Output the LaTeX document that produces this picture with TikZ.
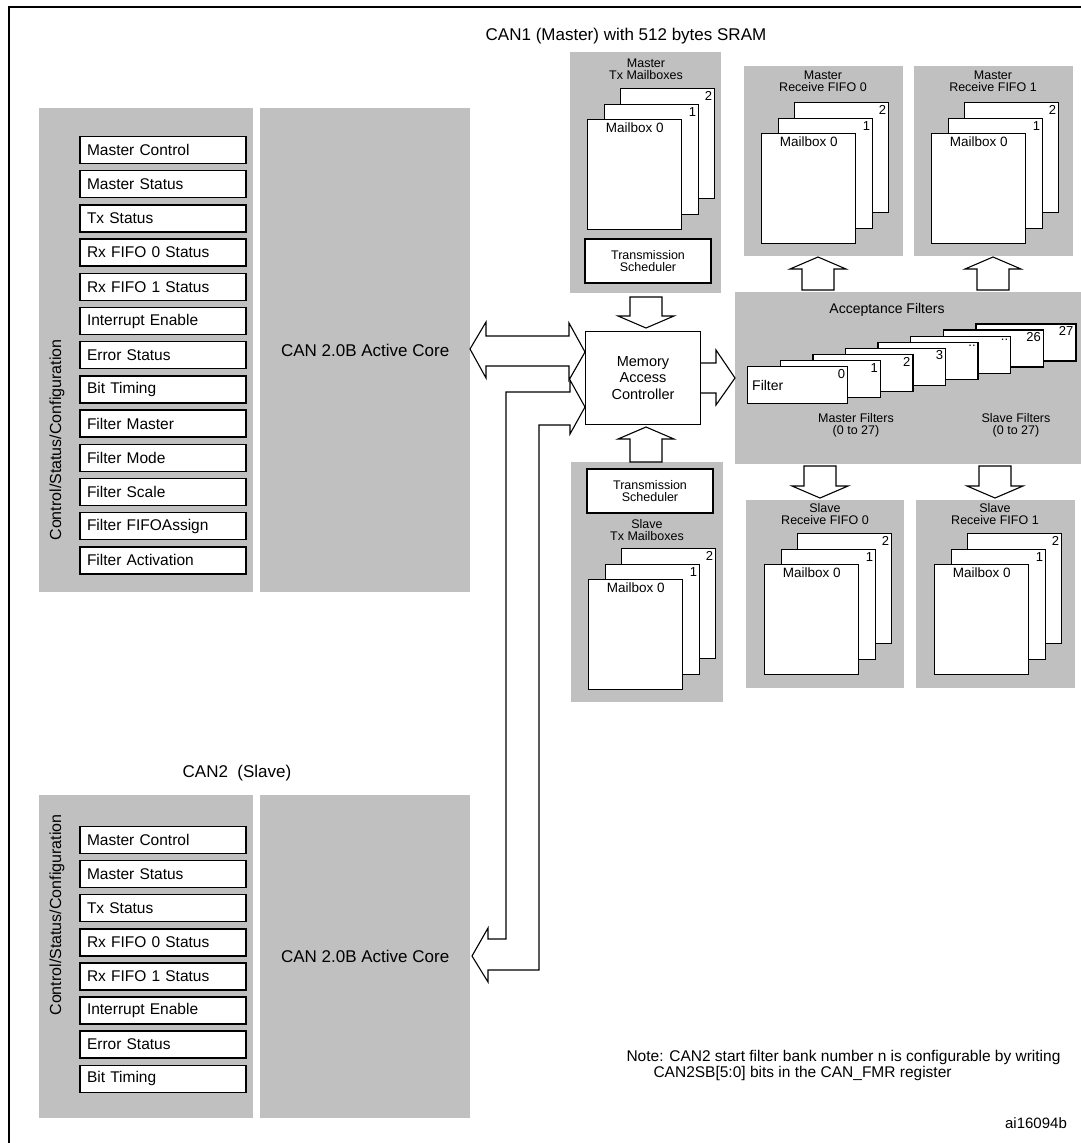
\documentclass[tikz,border=0pt]{standalone}
\usepackage{fontspec}
\setmainfont{Liberation Sans}
\usetikzlibrary{calc}
\definecolor{panelgray}{HTML}{C0C0C0}

\tikzset{
  panel/.style={fill=panelgray, draw=none, anchor=north west, inner sep=0pt},
  reg/.style={draw, line width=1.4pt, fill=white, minimum width=166pt, minimum height=27pt,
    text width=152pt, align=left, font=\fontsize{15.5}{17}\selectfont, inner sep=4pt},
  mbox/.style={draw, line width=1.4pt, fill=white, minimum width=94pt, minimum height=110pt,
    anchor=north west, inner sep=0pt},
  fbox/.style={draw, line width=1.4pt, fill=white, minimum width=100pt, minimum height=37pt,
    anchor=north west, inner sep=0pt},
  num/.style={anchor=north east, inner sep=3pt, font=\fontsize{13}{14}\selectfont},
  small/.style={font=\fontsize{12.5}{12}\selectfont, align=center, inner sep=0pt},
  big/.style={font=\fontsize{17}{19}\selectfont},
  fat/.style={draw, line width=1.1pt, fill=white, line join=miter},
}

% fat block arrows: #1 = x centre, #2 = y of tip, #3 = y of tail
\newcommand\fatup[3]{\draw[fat] (#1,#2) -- (#1+28,#2+12) -- (#1+16,#2+12) -- (#1+16,#3) -- (#1-16,#3) -- (#1-16,#2+12) -- (#1-28,#2+12) -- cycle;}
\newcommand\fatdown[3]{\draw[fat] (#1,#2) -- (#1+28,#2-12) -- (#1+16,#2-12) -- (#1+16,#3) -- (#1-16,#3) -- (#1-16,#2-12) -- (#1-28,#2-12) -- cycle;}

% mailbox stack: #1,#2 = top left of front box, #3 = name
\newcommand\mbstack[3]{%
  \node[mbox, label={[num]north east:2}] (#3b) at (#1+33,#2-31) {};
  \node[mbox, label={[num]north east:1}] (#3m) at (#1+17,#2-15) {};
  \node[mbox, label={[anchor=north, inner sep=4pt, font=\fontsize{13.5}{14}\selectfont]north:Mailbox 0}] (#3f) at (#1,#2) {};
}

\begin{document}
\begin{tikzpicture}[x=1pt, y=-1pt]
\useasboundingbox (0,0) rectangle (1081,1143);
% frame
\draw[line width=2pt] (9,1143) -- (9,7) -- (1081,7);

% CAN1 registers and core
\node[big] (can1) at (626,36) {CAN1 (Master) with 512 bytes SRAM};
\node[panel, minimum width=214pt, minimum height=484pt] (ctl1) at (39,108) {};
\node[panel, minimum width=210pt, minimum height=484pt] (core1) at (260,108) {};
\node[big] at (core1.center) {CAN 2.0B Active Core};
\node[rotate=90, font=\fontsize{16}{17}\selectfont] at (57,440) {Control/Status/Configuration};
\foreach \t [count=\i from 0] in {Master Control, Master Status, Tx Status, Rx FIFO 0 Status,
    Rx FIFO 1 Status, Interrupt Enable, Error Status, Bit Timing, Filter Master,
    Filter Mode, Filter Scale, Filter FIFOAssign, Filter Activation}
  \node[reg] (r1\i) at (163,150+34.2*\i) {\t};

% CAN2 registers and core
\node[big] (can2) at (237,773) {CAN2 \ (Slave)};
\node[panel, minimum width=214pt, minimum height=323pt] (ctl2) at (39,795) {};
\node[panel, minimum width=210pt, minimum height=323pt] (core2) at (260,795) {};
\node[big] at (core2.center) {CAN 2.0B Active Core};
\node[rotate=90, font=\fontsize{16}{17}\selectfont] at (57,915) {Control/Status/Configuration};
\foreach \t [count=\i from 0] in {Master Control, Master Status, Tx Status, Rx FIFO 0 Status,
    Rx FIFO 1 Status, Interrupt Enable, Error Status, Bit Timing}
  \node[reg] (r2\i) at (163,840+34.1*\i) {\t};

% master tx mailboxes
\node[panel, minimum width=151pt, minimum height=241pt] (mtx) at (570,52) {};
\node[small] at (646,69) {Master\\Tx Mailboxes};
\mbstack{587}{119}{mtxs}
\node[draw, line width=1.4pt, fill=white, minimum width=126pt, minimum height=44pt, small] (msch) at (648,261) {Transmission\\Scheduler};

% master receive fifos
\node[panel, minimum width=159pt, minimum height=190pt] (mf0) at (744,66) {};
\node[small] at (823,81) {Master\\Receive FIFO 0};
\mbstack{761}{133}{mf0s}
\node[panel, minimum width=159pt, minimum height=190pt] (mf1) at (914,66) {};
\node[small] at (993,81) {Master\\Receive FIFO 1};
\mbstack{931}{133}{mf1s}

% memory access controller
\node[draw, line width=1.4pt, fill=white, minimum width=115pt, minimum height=93pt, align=center,
  font=\fontsize{14.5}{16.5}\selectfont] (mac) at (643,378) {Memory\\Access\\Controller};

% acceptance filters
\node[panel, minimum width=346pt, minimum height=172pt] (af) at (735,292) {};
\node[font=\fontsize{14}{15}\selectfont] at (887,310) {Acceptance Filters};
\foreach \n/\i in {27/7, 26/6, {..}/5, {..}/4, 3/3, 2/2, 1/1, 0/0}
  \node[fbox, label={[num]north east:\n}] (f\i) at (747+32.6*\i,366-6.1*\i) {};
\node[anchor=west, inner sep=5pt, font=\fontsize{14}{15}\selectfont] at (f0.west) {Filter};
\node[small] at (856,425) {Master Filters\\(0 to 27)};
\node[small] at (1016,425) {Slave Filters\\(0 to 27)};

% slave tx mailboxes
\node[panel, minimum width=152pt, minimum height=240pt] (stx) at (571,462) {};
\node[draw, line width=1.4pt, fill=white, minimum width=126pt, minimum height=44pt, small] (ssch) at (650,491) {Transmission\\Scheduler};
\node[small] at (647,530) {Slave\\Tx Mailboxes};
\mbstack{588}{579}{stxs}

% slave receive fifos
\node[panel, minimum width=158pt, minimum height=188pt] (sf0) at (746,500) {};
\node[small] at (825,514) {Slave\\Receive FIFO 0};
\mbstack{764}{564}{sf0s}
\node[panel, minimum width=159pt, minimum height=188pt] (sf1) at (916,500) {};
\node[small] at (995,514) {Slave\\Receive FIFO 1};
\mbstack{934}{564}{sf1s}

% block arrows
\fatdown{646}{328}{297}
\fatup{646}{427}{462}
\fatup{818}{257}{290}
\fatup{993}{257}{290}
\fatdown{820}{498}{466}
\fatdown{995}{498}{466}
\draw[fat] (mac.east |- 0,363) -- (716,363) -- (716,350) -- (735,378) -- (716,405) -- (716,393) -- (mac.east |- 0,393);
\draw[fat] (470,349) -- (486,322) -- (486,336) -- (569,336) -- (569,323) -- (585,352) -- (569,380) -- (569,366) -- (486,366) -- (486,378) -- cycle;
\draw[fat] (506,939) -- (506,392) -- (570,392) -- (570,380) -- (585,407) -- (570,434) -- (570,425) -- (539,425) -- (539,970) -- (488,970) -- (488,982) -- (472,956) -- (488,928) -- (488,939) -- cycle;

% note
\node[anchor=west, font=\fontsize{15.5}{16}\selectfont, align=left] (note) at (623,1065)
  {Note: CAN2 start filter bank number n is configurable by writing\\\hspace*{27pt}CAN2SB[5:0] bits in the CAN\_FMR register};
\node[font=\fontsize{15}{15}\selectfont] (ref) at (1036,1123) {ai16094b};
\end{tikzpicture}
\end{document}
